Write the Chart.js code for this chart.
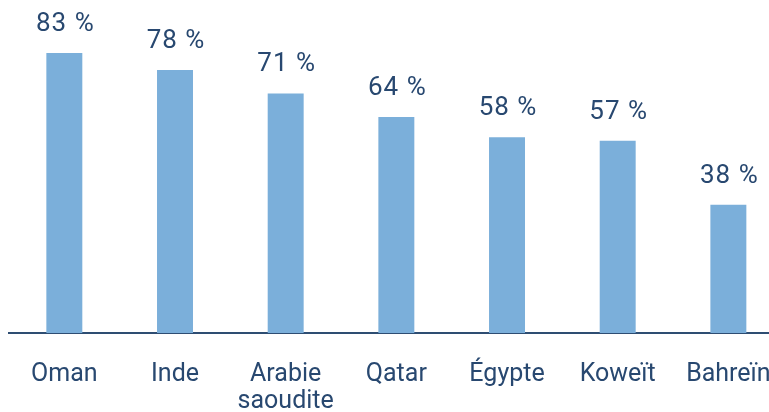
<!DOCTYPE html>
<html>
<head>
<meta charset="utf-8">
<script src="https://cdn.jsdelivr.net/npm/chart.js@4.4.0/dist/chart.umd.min.js"></script>
<style>
  html, body { margin: 0; padding: 0; background: #fff; overflow: hidden; }
  #wrap { width: 800px; height: 412px; }
</style>
</head>
<body>
<div id="wrap"><canvas id="chart" width="800" height="412"></canvas></div>
<script>
// pays et part (%)
const countries = ['Oman', 'Inde', ['Arabie', 'saoudite'], 'Qatar', 'Égypte', 'Koweït', 'Bahreïn'];
const shares = [83, 78, 71, 64, 58, 57, 38];

const textColor = '#284870';
const barColor = '#7BAFDA';

// étiquettes de valeur au-dessus des barres
const valueLabels = {
    id: 'valueLabels',
    afterDatasetsDraw(chart) {
        const ctx = chart.ctx;
        const meta = chart.getDatasetMeta(0);
        ctx.save();
        ctx.font = '26px Roboto';
        ctx.letterSpacing = '1px';
        ctx.fillStyle = textColor;
        ctx.textAlign = 'center';
        ctx.textBaseline = 'alphabetic';
        meta.data.forEach(function(bar, i) {
            ctx.fillText(shares[i] + ' %', bar.x + 1, bar.y - 22);
        });
        ctx.restore();
    }
};

new Chart(document.getElementById('chart'), {
    type: 'bar',
    data: {
        labels: countries,
        datasets: [{
            data: shares,
            backgroundColor: barColor,
            barPercentage: 0.325,
            categoryPercentage: 1
        }]
    },
    options: {
        responsive: false,
        animation: false,
        layout: { padding: { left: 9, right: 16.3, top: 29.4, bottom: 0 } },
        plugins: { legend: { display: false }, tooltip: { enabled: false } },
        scales: {
            x: {
                grid: { display: false, drawTicks: false },
                border: { display: true, color: '#2E4D72', width: 2 },
                ticks: {
                    color: textColor,
                    font: { family: 'Roboto', size: 25, lineHeight: 1.08 },
                    padding: 28,
                    maxRotation: 0,
                    autoSkip: false
                },
                afterFit: function(s) { s.height = 79; }
            },
            y: {
                display: false,
                min: 0,
                max: 90
            }
        }
    },
    plugins: [valueLabels]
});
</script>
</body>
</html>
